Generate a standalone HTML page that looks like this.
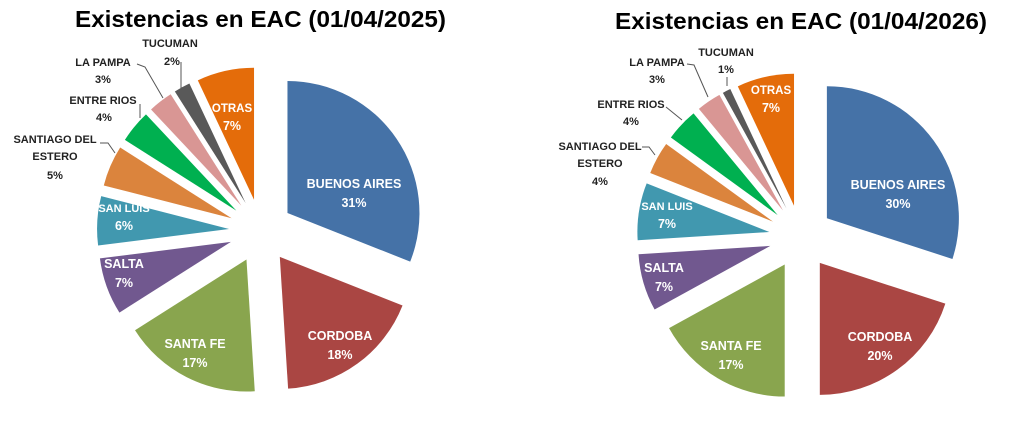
<!DOCTYPE html>
<html><head><meta charset="utf-8"><style>
body{margin:0;background:#fff;width:1024px;height:421px;overflow:hidden}
svg{display:block}
text{font-family:"Liberation Sans",sans-serif;font-weight:bold}
.w{fill:#fff;font-size:12.5px}
.b{fill:#222;font-size:11px}
.t{fill:#000;font-size:23px}
</style></head><body>
<svg id="s" width="1024" height="421" viewBox="0 0 1024 421">
<g id="g"></g>
<text class="t" x="75" y="27" textLength="371" lengthAdjust="spacingAndGlyphs">Existencias en EAC (01/04/2025)</text>
<text class="t" x="615" y="29" textLength="372" lengthAdjust="spacingAndGlyphs">Existencias en EAC (01/04/2026)</text>
<g fill="none" stroke="#555" stroke-width="1">
<polyline points="137,64 145,67 163,98"/>
<polyline points="181,62 181,88"/>
<polyline points="140,104 140,118"/>
<polyline points="100,143 108,143 115,153"/>
<polyline points="687,64 694,65 708,97"/>
<polyline points="727,77 727,86"/>
<polyline points="666,107 682,120"/>
<polyline points="642,147 649,147 655,155"/>
</g>
<!-- left labels -->
<text class="w" x="354" y="188" text-anchor="middle">BUENOS AIRES</text>
<text class="w" x="354" y="207" text-anchor="middle">31%</text>
<text class="w" x="340" y="340" text-anchor="middle">CORDOBA</text>
<text class="w" x="340" y="359" text-anchor="middle">18%</text>
<text class="w" x="195" y="348" text-anchor="middle">SANTA FE</text>
<text class="w" x="195" y="367" text-anchor="middle">17%</text>
<text class="w" x="124" y="268" text-anchor="middle">SALTA</text>
<text class="w" x="124" y="287" text-anchor="middle">7%</text>
<text class="w" x="124" y="212" text-anchor="middle" style="font-size:11px">SAN LUIS</text>
<text class="w" x="124" y="230" text-anchor="middle">6%</text>
<text class="w" x="232" y="112" text-anchor="middle" style="font-size:11.5px">OTRAS</text>
<text class="w" x="232" y="130" text-anchor="middle">7%</text>
<text class="b" x="55" y="143" text-anchor="middle">SANTIAGO DEL</text>
<text class="b" x="55" y="160" text-anchor="middle">ESTERO</text>
<text class="b" x="55" y="179" text-anchor="middle">5%</text>
<text class="b" x="103" y="104" text-anchor="middle">ENTRE RIOS</text>
<text class="b" x="104" y="121" text-anchor="middle">4%</text>
<text class="b" x="103" y="66" text-anchor="middle">LA PAMPA</text>
<text class="b" x="103" y="83" text-anchor="middle">3%</text>
<text class="b" x="170" y="47" text-anchor="middle">TUCUMAN</text>
<text class="b" x="172" y="65" text-anchor="middle">2%</text>
<!-- right labels -->
<text class="w" x="898" y="189" text-anchor="middle">BUENOS AIRES</text>
<text class="w" x="898" y="208" text-anchor="middle">30%</text>
<text class="w" x="880" y="341" text-anchor="middle">CORDOBA</text>
<text class="w" x="880" y="360" text-anchor="middle">20%</text>
<text class="w" x="731" y="350" text-anchor="middle">SANTA FE</text>
<text class="w" x="731" y="369" text-anchor="middle">17%</text>
<text class="w" x="664" y="272" text-anchor="middle">SALTA</text>
<text class="w" x="664" y="291" text-anchor="middle">7%</text>
<text class="w" x="667" y="210" text-anchor="middle" style="font-size:11px">SAN LUIS</text>
<text class="w" x="667" y="228" text-anchor="middle">7%</text>
<text class="w" x="771" y="94" text-anchor="middle" style="font-size:11.5px">OTRAS</text>
<text class="w" x="771" y="112" text-anchor="middle">7%</text>
<text class="b" x="600" y="150" text-anchor="middle">SANTIAGO DEL</text>
<text class="b" x="600" y="167" text-anchor="middle">ESTERO</text>
<text class="b" x="600" y="185" text-anchor="middle">4%</text>
<text class="b" x="631" y="108" text-anchor="middle">ENTRE RIOS</text>
<text class="b" x="631" y="125" text-anchor="middle">4%</text>
<text class="b" x="657" y="66" text-anchor="middle">LA PAMPA</text>
<text class="b" x="657" y="83" text-anchor="middle">3%</text>
<text class="b" x="726" y="56" text-anchor="middle">TUCUMAN</text>
<text class="b" x="726" y="73" text-anchor="middle">1%</text>
</svg>
<script>
var C=["#4572a7","#aa4643","#89a54e","#71588f","#4198af","#db843d","#00b050","#d99694","#595959","#e46c0a"];
function pie(cx,cy,r,d,v){var g=document.getElementById("g"),a=0,tot=v.reduce(function(p,q){return p+q},0);
v.forEach(function(x,i){var a0=a,a1=a+x/tot*2*Math.PI;a=a1;var m=(a0+a1)/2,
ox=cx+d*Math.sin(m),oy=cy-d*Math.cos(m),
x0=ox+r*Math.sin(a0),y0=oy-r*Math.cos(a0),x1=ox+r*Math.sin(a1),y1=oy-r*Math.cos(a1),
p=document.createElementNS("http://www.w3.org/2000/svg","path");
p.setAttribute("d","M"+ox+","+oy+"L"+x0+","+y0+"A"+r+","+r+" 0 "+((a1-a0)>Math.PI?1:0)+" 1 "+x1+","+y1+"Z");
p.setAttribute("fill",C[i]);g.appendChild(p);});}
pie(261,231,132,32,[31,18,17,7,6,5,4,3,2,7]);
pie(801,237,132,32,[30,20,17,7,7,4,4,3,1,7]);
</script>
</body></html>
